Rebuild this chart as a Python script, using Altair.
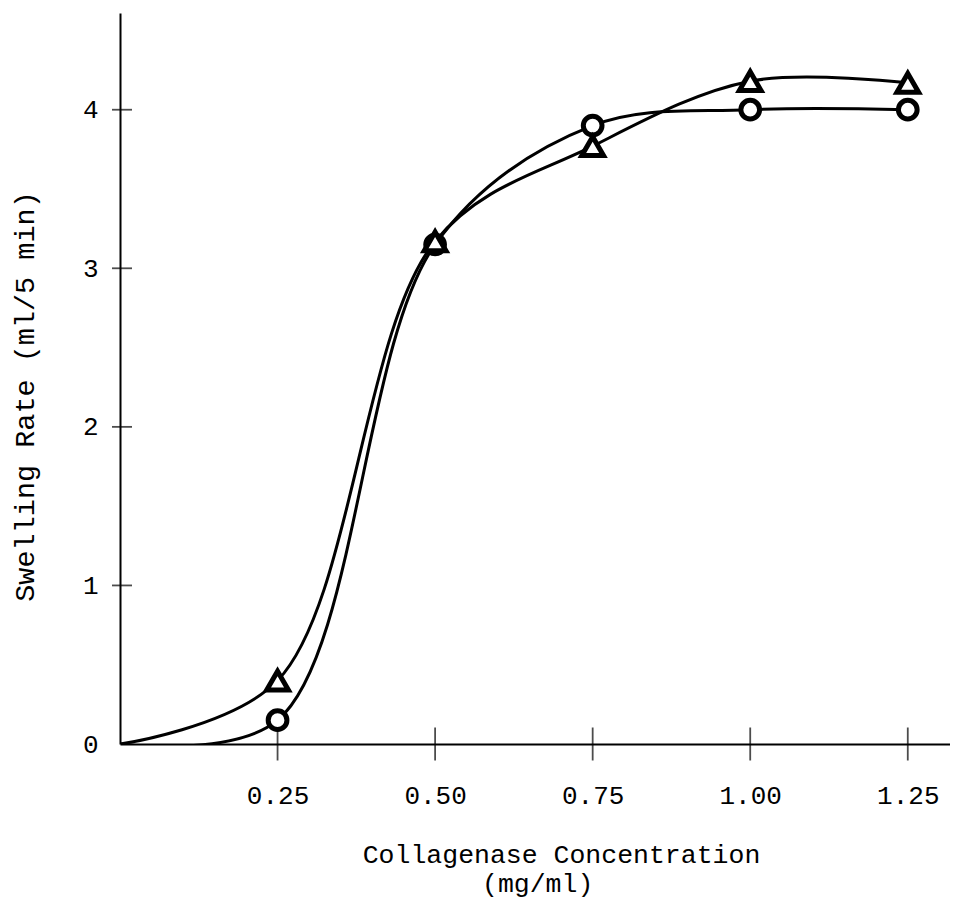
import altair as alt
import pandas as pd

# ---- data ----
conc = [0.25, 0.50, 0.75, 1.00, 1.25]
rate_circle = [0.15, 3.15, 3.90, 4.00, 4.00]
rate_triangle = [0.40, 3.17, 3.77, 4.18, 4.17]
curve_start_x = [0.0]
curve_start_y = [0.0]
x_tick_values = [0.25, 0.50, 0.75, 1.00, 1.25]
y_tick_values = [1, 2, 3, 4]
y_label_values = [0, 1, 2, 3, 4]

FONT = "Liberation Mono"

series_vals = {"circle": rate_circle, "triangle": rate_triangle}

pts = pd.DataFrame(
    [{"series": s, "x": x, "y": y} for s, vals in series_vals.items() for x, y in zip(conc, vals)]
)

# hand-drawn curves start at the origin and pass through each marker
curve_rows = []
for s, vals in series_vals.items():
    curve_rows.append({"series": s, "x": curve_start_x[0], "y": curve_start_y[0]})
    for x, y in zip(conc, vals):
        curve_rows.append({"series": s, "x": x, "y": y})
curve = pd.DataFrame(curve_rows)

xt = pd.DataFrame({"x": x_tick_values, "y": [0] * len(x_tick_values)})
yt = pd.DataFrame({"x": [0] * len(y_tick_values), "y": y_tick_values})

xscale = alt.Scale(domain=[0, 1.317], nice=False, zero=False)
yscale = alt.Scale(domain=[0, 4.61], nice=False)

xaxis = alt.Axis(
    values=x_tick_values, format=".2f", grid=False, ticks=False,
    domain=True, domainColor="black", domainWidth=2,
    labelFont=FONT, labelFontSize=26, labelColor="black",
    labelBaseline="alphabetic", labelPadding=59,
    title=["Collagenase Concentration", "(mg/ml)\u00a0\u00a0\u00a0\u200b"],
    titleFont=FONT, titleFontSize=26.5, titleFontWeight="normal", titleColor="black",
    titleX=441, titleY=118, titleBaseline="alphabetic", titleAlign="center",
    titleLineHeight=29,
)
yaxis = alt.Axis(
    values=y_label_values, format="d", grid=False, ticks=False,
    domain=True, domainColor="black", domainWidth=2,
    labelFont=FONT, labelFontSize=26, labelColor="black",
    labelPadding=22, labelBaseline="middle",
    title="Swelling Rate (ml/5 min)",
    titleFont=FONT, titleFontSize=28.5, titleFontWeight="normal", titleColor="black",
    titleX=-87, titleY=383, titleAngle=270, titleBaseline="alphabetic", titleAlign="center",
)

X = alt.X("x:Q", scale=xscale, axis=xaxis)
Y = alt.Y("y:Q", scale=yscale, axis=yaxis)
Xn = alt.X("x:Q", scale=xscale)
Yn = alt.Y("y:Q", scale=yscale)

lines = alt.Chart(curve).mark_line(
    interpolate="catmull-rom", color="black", strokeWidth=3, clip=True
).encode(x=X, y=Y, detail="series:N")

circles = alt.Chart(pts).transform_filter(alt.datum.series == "circle").mark_point(
    shape="circle", filled=True, fill="white", stroke="black", strokeWidth=5,
    size=350, opacity=1
).encode(x=Xn, y=Yn)

triangles = alt.Chart(pts).transform_filter(alt.datum.series == "triangle").mark_point(
    shape="triangle-up", filled=True, fill="white", stroke="black", strokeWidth=5,
    size=470, opacity=1
).encode(x=Xn, y=Yn)

xticks = alt.Chart(xt).mark_tick(
    orient="vertical", color="black", size=33, thickness=1.8
).encode(x=Xn, y=Yn)

yticks = alt.Chart(yt).mark_tick(
    orient="horizontal", color="black", size=20, thickness=1.8, xOffset=2
).encode(x=Xn, y=Yn)

chart = alt.layer(lines, xticks, yticks, circles, triangles).properties(
    width=830, height=731,
    autosize=alt.AutoSizeParams(type="none"),
    padding={"left": 112, "top": 5, "right": 0, "bottom": 156},
    background="white",
).configure_view(stroke=None)

chart.save("out.html", embed_options={"renderer": "svg", "actions": False})
